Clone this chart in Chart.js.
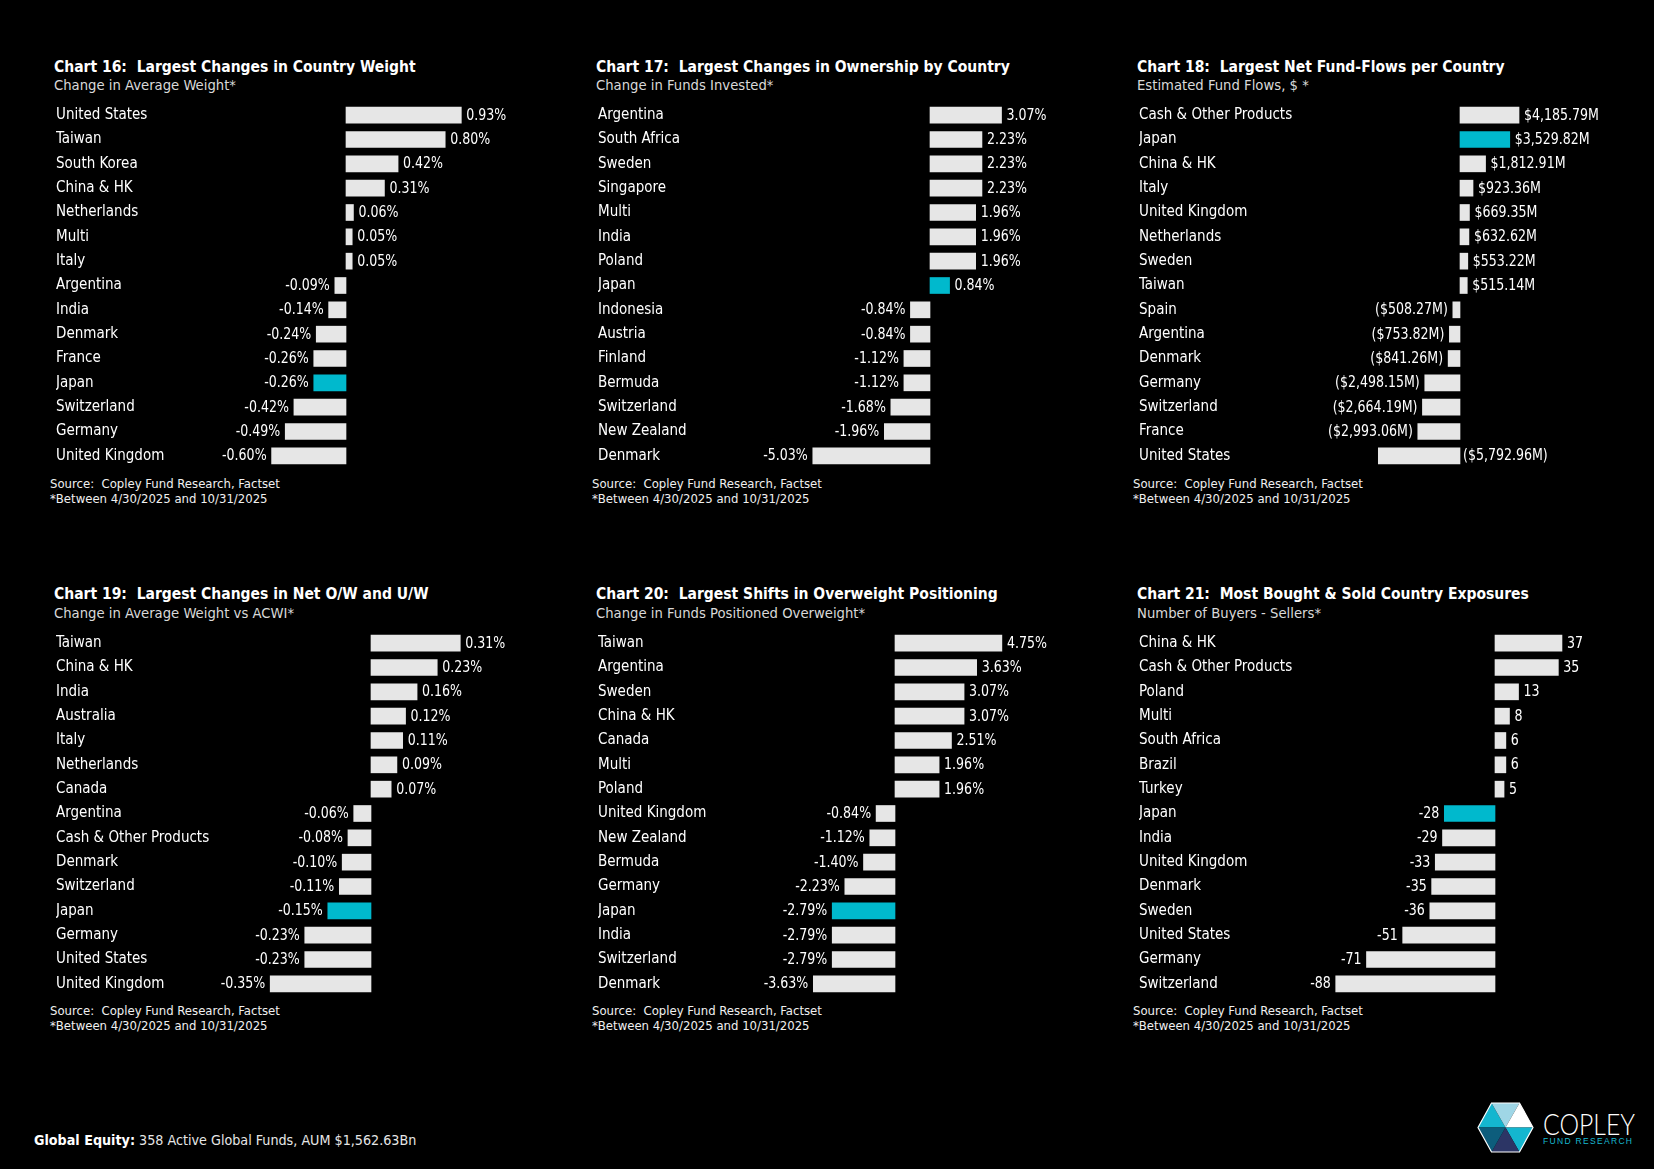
<!DOCTYPE html>
<html>
<head>
<meta charset="utf-8">
<script src="https://cdn.jsdelivr.net/npm/chart.js@4.4.1/dist/chart.umd.min.js"></script>
<style>
html,body{margin:0;padding:0;background:#000;}
#page{position:relative;width:1654px;height:1169px;background:#000;overflow:hidden;
  font-family:'DejaVu Sans Condensed','DejaVu Sans',sans-serif;color:#fff;}
.title{position:absolute;font-weight:bold;font-size:15.5px;line-height:20px;white-space:nowrap;color:#fff;}
.sub{position:absolute;font-size:14.7px;line-height:18px;white-space:nowrap;color:#d9d9d9;}
.src{position:absolute;font-size:13px;line-height:15px;white-space:nowrap;color:#f0f0f0;}
canvas{position:absolute;}
#footer{position:absolute;left:34px;top:1131px;font-size:14.2px;line-height:19px;white-space:nowrap;color:#e6e6e6;}
#footer b{color:#fff;}
#logo{position:absolute;left:1470px;top:1095px;}
</style>
</head>
<body>
<div id="page">
  <div id="footer"><b>Global Equity:</b> 358 Active Global Funds, AUM $1,562.63Bn</div>
  <svg id="logo" width="184" height="70" viewBox="1470 1095 184 70">
    <polygon points="1478,1127.5 1491.5,1103 1505.5,1127.5" fill="#14b6cf"/>
    <polygon points="1491.5,1103 1519.5,1103 1505.5,1127.5" fill="#9fd6e6"/>
    <polygon points="1519.5,1103 1533,1127.5 1505.5,1127.5" fill="#ffffff"/>
    <polygon points="1533,1127.5 1519.5,1152 1505.5,1127.5" fill="#14b6cf"/>
    <polygon points="1519.5,1152 1491.5,1152 1505.5,1127.5" fill="#2c3565"/>
    <polygon points="1491.5,1152 1478,1127.5 1505.5,1127.5" fill="#0d5d7c"/>
    <polygon points="1478,1127.5 1491.5,1103 1519.5,1103 1533,1127.5 1519.5,1152 1491.5,1152" fill="none" stroke="#ffffff" stroke-width="1.2"/>
    <text x="1543" y="1135" font-family="Lato, 'DejaVu Sans', sans-serif" font-weight="300" font-size="30" fill="#ffffff" textLength="92" lengthAdjust="spacingAndGlyphs">COPLEY</text>
    <text x="1543" y="1143.5" font-family="'Liberation Sans', sans-serif" font-size="8.5" fill="#18b8d0" textLength="89" lengthAdjust="spacing">FUND RESEARCH</text>
  </svg>
</div>
<script>
// ---------------- DATA ----------------
const c16Categories = ['United States','Taiwan','South Korea','China & HK','Netherlands','Multi','Italy','Argentina','India','Denmark','France','Japan','Switzerland','Germany','United Kingdom'];
const c16Values = [0.93,0.80,0.42,0.31,0.06,0.05,0.05,-0.09,-0.14,-0.24,-0.26,-0.26,-0.42,-0.49,-0.60];

const c17Categories = ['Argentina','South Africa','Sweden','Singapore','Multi','India','Poland','Japan','Indonesia','Austria','Finland','Bermuda','Switzerland','New Zealand','Denmark'];
const c17Values = [3.07,2.23,2.23,2.23,1.96,1.96,1.96,0.84,-0.84,-0.84,-1.12,-1.12,-1.68,-1.96,-5.03];

const c18Categories = ['Cash & Other Products','Japan','China & HK','Italy','United Kingdom','Netherlands','Sweden','Taiwan','Spain','Argentina','Denmark','Germany','Switzerland','France','United States'];
const c18Values = [4185.79,3529.82,1812.91,923.36,669.35,632.62,553.22,515.14,-508.27,-753.82,-841.26,-2498.15,-2664.19,-2993.06,-5792.96];

const c19Categories = ['Taiwan','China & HK','India','Australia','Italy','Netherlands','Canada','Argentina','Cash & Other Products','Denmark','Switzerland','Japan','Germany','United States','United Kingdom'];
const c19Values = [0.31,0.23,0.16,0.12,0.11,0.09,0.07,-0.06,-0.08,-0.10,-0.11,-0.15,-0.23,-0.23,-0.35];

const c20Categories = ['Taiwan','Argentina','Sweden','China & HK','Canada','Multi','Poland','United Kingdom','New Zealand','Bermuda','Germany','Japan','India','Switzerland','Denmark'];
const c20Values = [4.75,3.63,3.07,3.07,2.51,1.96,1.96,-0.84,-1.12,-1.40,-2.23,-2.79,-2.79,-2.79,-3.63];

const c21Categories = ['China & HK','Cash & Other Products','Poland','Multi','South Africa','Brazil','Turkey','Japan','India','United Kingdom','Denmark','Sweden','United States','Germany','Switzerland'];
const c21Values = [37,35,13,8,6,6,5,-28,-29,-33,-35,-36,-51,-71,-88];

const titles = [
  'Chart 16:\u00a0 Largest Changes in Country Weight',
  'Chart 17:\u00a0 Largest Changes in Ownership by Country',
  'Chart 18:\u00a0 Largest Net Fund-Flows per Country',
  'Chart 19:\u00a0 Largest Changes in Net O/W and U/W',
  'Chart 20:\u00a0 Largest Shifts in Overweight Positioning',
  'Chart 21:\u00a0 Most Bought & Sold Country Exposures'
];
const subtitles = [
  'Change in Average Weight*',
  'Change in Funds Invested*',
  'Estimated Fund Flows, $ *',
  'Change in Average Weight vs ACWI*',
  'Change in Funds Positioned Overweight*',
  'Number of Buyers - Sellers*'
];
const sourceLine1 = 'Source:\u00a0 Copley Fund Research, Factset';
const sourceLine2 = '*Between 4/30/2025 and 10/31/2025';
const highlightCategory = 'Japan';

// ---------------- FORMATS ----------------
const fmtPct = v => v.toFixed(2) + '%';
const fmtMoney = v => {
  const s = Math.abs(v).toLocaleString('en-US',{minimumFractionDigits:2,maximumFractionDigits:2});
  return v >= 0 ? '$' + s + 'M' : '($' + s + 'M)';
};
const fmtCount = v => String(v);

// ---------------- LAYOUT ----------------
const COL_TEXT_X = [54, 596, 1137];
const COL_LABEL_X = [56, 598, 1139];
const ROW_DY = [0, 527.5];
const CANVAS_W = 480, CANVAS_H = 365, CANVAS_TOP = 103;
const GRAY = '#e6e6e6', CYAN = '#00b9cd';
const FONT = "'DejaVu Sans Condensed','DejaVu Sans',sans-serif";
const CAT_SIZE = 15;
const VAL_SIZE = 16;
const VAL_SQUEEZE = 0.875;

const charts = [
  {cats:c16Categories, vals:c16Values, fmt:fmtPct,   zero:346,  k:124,    plotLeft:250,  col:0,row:0},
  {cats:c17Categories, vals:c17Values, fmt:fmtPct,   zero:930,  k:23.3,   plotLeft:800,  col:1,row:0},
  {cats:c18Categories, vals:c18Values, fmt:fmtMoney, zero:1460, k:0.0141, plotLeft:1365, col:2,row:0, rightOfZero:['United States']},
  {cats:c19Categories, vals:c19Values, fmt:fmtPct,   zero:371,  k:288,    plotLeft:250,  col:0,row:1},
  {cats:c20Categories, vals:c20Values, fmt:fmtPct,   zero:895,  k:22.5,   plotLeft:800,  col:1,row:1},
  {cats:c21Categories, vals:c21Values, fmt:fmtCount, zero:1495, k:1.81,   plotLeft:1325, col:2,row:1}
];

const valueLabels = {
  id:'valueLabels',
  afterDatasetsDraw(chart, args, opts){
    const ctx = chart.ctx;
    const meta = chart.getDatasetMeta(0);
    const vals = chart.data.datasets[0].data;
    const cats = chart.data.labels;
    const zeroX = chart.scales.x.getPixelForValue(0);
    meta.data.forEach((bar, i) => {
      const v = vals[i];
      const txt = opts.fmt(v);
      let x, align;
      if (opts.rightOfZero && opts.rightOfZero.includes(cats[i])) { x = zeroX + 3; align = 'left'; }
      else if (v >= 0) { x = bar.x + 5; align = 'left'; }
      else { x = bar.x - 5; align = 'right'; }
      ctx.save();
      ctx.font = VAL_SIZE + 'px ' + FONT;
      ctx.fillStyle = '#ffffff';
      ctx.textBaseline = 'middle';
      ctx.textAlign = align;
      ctx.translate(x, bar.y + 0.5);
      ctx.scale(VAL_SQUEEZE, 1);
      ctx.fillText(txt, 0, 0);
      ctx.restore();
    });
  }
};

const page = document.getElementById('page');
function addDiv(cls, text, x, y){
  const d = document.createElement('div');
  d.className = cls; d.textContent = text;
  d.style.left = x + 'px'; d.style.top = y + 'px';
  page.appendChild(d);
}

charts.forEach((c, idx) => {
  const dy = ROW_DY[c.row];
  addDiv('title', titles[idx], COL_TEXT_X[c.col], 56.7 + dy);
  addDiv('sub', subtitles[idx], COL_TEXT_X[c.col], 76 + dy);
  addDiv('src', sourceLine1, COL_TEXT_X[c.col] - 4, 475.5 + dy);
  addDiv('src', sourceLine2, COL_TEXT_X[c.col] - 4, 490.5 + dy);

  const left = COL_LABEL_X[c.col];
  const cv = document.createElement('canvas');
  cv.width = CANVAS_W; cv.height = CANVAS_H;
  cv.style.left = left + 'px'; cv.style.top = (CANVAS_TOP + dy) + 'px';
  cv.style.width = CANVAS_W + 'px'; cv.style.height = CANVAS_H + 'px';
  page.appendChild(cv);

  const plotRight = left + CANVAS_W;
  const xMin = (c.plotLeft - c.zero) / c.k;
  const xMax = (plotRight - c.zero) / c.k;
  const axisW = c.plotLeft - left;

  new Chart(cv, {
    type:'bar',
    data:{
      labels:c.cats,
      datasets:[{
        data:c.vals,
        backgroundColor:c.cats.map(n => n === highlightCategory ? CYAN : GRAY),
        borderWidth:0,
        barThickness:16
      }]
    },
    options:{
      indexAxis:'y',
      responsive:false,
      maintainAspectRatio:false,
      animation:false,
      devicePixelRatio:1,
      layout:{padding:0},
      plugins:{
        legend:{display:false},
        tooltip:{enabled:false},
        valueLabels:{fmt:c.fmt, rightOfZero:c.rightOfZero}
      },
      scales:{
        x:{display:false, min:xMin, max:xMax},
        y:{
          grid:{display:false, drawTicks:false},
          border:{display:false},
          ticks:{crossAlign:'far', color:'#ffffff', padding:0, autoSkip:false,
                 font:{family:FONT, size:CAT_SIZE}},
          afterFit(scale){ scale.width = axisW; scale.paddingTop = 0; scale.paddingBottom = 0; }
        }
      }
    },
    plugins:[valueLabels]
  });
});
</script>
</body>
</html>
